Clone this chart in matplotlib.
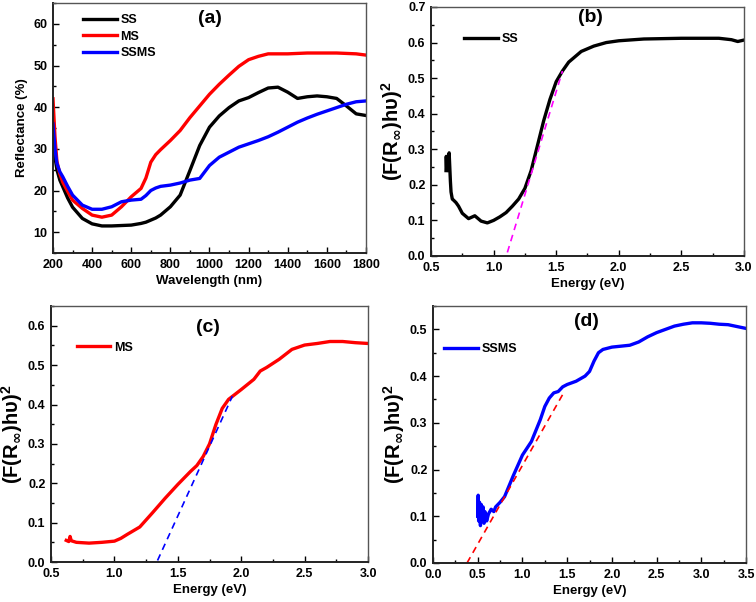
import matplotlib
matplotlib.use("Agg")
import matplotlib.pyplot as plt
from matplotlib.ticker import MultipleLocator, AutoMinorLocator

plt.rcParams['font.family'] = ['Liberation Sans', 'DejaVu Sans']
plt.rcParams['font.weight'] = 'bold'
plt.rcParams['mathtext.fontset'] = 'custom'
plt.rcParams['mathtext.rm'] = 'Liberation Sans:bold'
plt.rcParams['mathtext.bf'] = 'Liberation Sans:bold'
plt.rcParams['mathtext.it'] = 'Liberation Sans:bold'
plt.rcParams['mathtext.sf'] = 'DejaVu Sans:bold'
plt.rcParams['mathtext.default'] = 'bf'

# ---- (a) reflectance ----
wl = [200, 210, 220, 235, 250, 275, 300, 350, 400, 450, 500, 550, 600, 650, 675, 700, 725, 750, 800,
      850, 900, 950, 1000, 1050, 1100, 1150, 1200, 1250, 1300, 1350, 1400, 1450, 1500,
      1550, 1600, 1650, 1700, 1750, 1800]
ss_refl = [33, 28, 25, 22.5, 20.9, 18.2, 16, 13.3, 12, 11.5, 11.5, 11.6, 11.7, 12.1, 12.4, 12.9, 13.4, 14.1, 16.1,
           18.9, 24.8, 30.8, 35.2, 37.9, 39.9, 41.5, 42.3, 43.5, 44.6, 44.8, 43.6, 42.1, 42.5,
           42.7, 42.5, 42.1, 40.3, 38.4, 38]
ms_refl = [42, 33, 27, 24, 22, 19.8, 17.7, 15.7, 14.1, 13.6, 14.1, 16.1, 18.5, 20.5, 23, 26.8, 28.6, 29.8, 32,
           34.4, 37.5, 40.3, 43.1, 45.5, 47.7, 49.8, 51.4, 52.2, 52.8, 52.8, 52.8, 52.9, 53,
           53, 53, 53, 52.9, 52.8, 52.5]
ssms_refl = [36, 30, 26.5, 24.5, 23.3, 21, 18.9, 16.5, 15.5, 15.5, 16.1, 17.3, 17.7, 17.9, 18.8, 20, 20.6, 21, 21.3,
             21.8, 22.5, 22.9, 26, 28, 29.2, 30.4, 31.2, 32, 32.9, 34, 35.2, 36.4, 37.4,
             38.3, 39.1, 39.9, 40.7, 41.3, 41.5]

# ---- (b) SS ----
e_ss = [0.62, 0.622, 0.625, 0.63, 0.635, 0.64, 0.645, 0.65, 0.655, 0.66, 0.67, 0.68, 0.7, 0.72,
        0.75, 0.8, 0.85, 0.9, 0.95, 1.0, 1.05, 1.1, 1.15, 1.2, 1.25, 1.3, 1.35, 1.4, 1.45,
        1.5, 1.55, 1.6, 1.7, 1.8, 1.9, 2.0, 2.2, 2.5, 2.8, 2.9, 2.95, 3.0]
f_ss = [0.24, 0.28, 0.25, 0.27, 0.24, 0.28, 0.29, 0.25, 0.21, 0.18, 0.16, 0.157, 0.15, 0.14,
        0.12, 0.105, 0.113, 0.098, 0.093, 0.1, 0.11, 0.122, 0.14, 0.16, 0.19, 0.24, 0.31, 0.38, 0.44,
        0.49, 0.52, 0.545, 0.575, 0.59, 0.6, 0.605, 0.61, 0.612, 0.612, 0.608, 0.603, 0.607]
fit_ss_x = [1.11, 1.55]
fit_ss_y = [0.01, 0.52]

# ---- (c) MS ----
e_ms = [0.62, 0.64, 0.65, 0.66, 0.7, 0.8, 0.9, 1.0, 1.05, 1.1, 1.2, 1.3, 1.4, 1.5, 1.6, 1.65,
        1.7, 1.75, 1.8, 1.85, 1.9, 2.0, 2.1, 2.15, 2.2, 2.3, 2.4, 2.5, 2.6, 2.7, 2.8, 2.9, 3.0]
f_ms = [0.055, 0.052, 0.065, 0.054, 0.05, 0.048, 0.05, 0.053, 0.06, 0.07, 0.089, 0.125, 0.162,
        0.197, 0.23, 0.245, 0.268, 0.30, 0.349, 0.39, 0.413, 0.438, 0.464, 0.485, 0.494, 0.515,
        0.54, 0.551, 0.555, 0.56, 0.56, 0.557, 0.555]
fit_ms_x = [1.34, 1.93]
fit_ms_y = [0.004, 0.421]

# ---- (d) SSMS ----
e_ssms = [0.5, 0.505, 0.51, 0.52, 0.53, 0.54, 0.55, 0.56, 0.57, 0.58, 0.6, 0.62, 0.65, 0.68, 0.7,
          0.75, 0.8, 0.9, 1.0, 1.1, 1.2, 1.25, 1.3, 1.35, 1.4, 1.45, 1.5, 1.6, 1.7, 1.75, 1.8,
          1.85, 1.9, 2.0, 2.1, 2.2, 2.3, 2.4, 2.5, 2.6, 2.7, 2.8, 2.9, 3.0, 3.1, 3.2, 3.3, 3.4, 3.5]
f_ssms = [0.1, 0.145, 0.09, 0.13, 0.08, 0.125, 0.09, 0.12, 0.085, 0.11, 0.09, 0.105, 0.115, 0.11, 0.12,
          0.13, 0.142, 0.188, 0.231, 0.26, 0.307, 0.335, 0.353, 0.364, 0.367, 0.377, 0.382, 0.389, 0.40,
          0.41, 0.432, 0.45, 0.457, 0.462, 0.464, 0.466, 0.473, 0.484, 0.493, 0.50, 0.507, 0.511,
          0.514, 0.514, 0.513, 0.511, 0.51, 0.506, 0.502]
fit_ssms_x = [0.38, 1.46]
fit_ssms_y = [0.0, 0.364]

ylab = '(F(R$_{\\mathsf{\\infty}}$)hυ)$^{2}$'


def style(ax, xmaj, ymaj):
    ax.xaxis.set_major_locator(MultipleLocator(xmaj))
    ax.yaxis.set_major_locator(MultipleLocator(ymaj))
    ax.xaxis.set_minor_locator(AutoMinorLocator(2))
    ax.yaxis.set_minor_locator(AutoMinorLocator(2))
    ax.tick_params(which='both', direction='in', labelsize=9, pad=4)
    ax.tick_params(which='major', length=4, width=1)
    ax.tick_params(which='minor', length=2, width=1)
    for s in ['left', 'bottom']:
        ax.spines[s].set_linewidth(1.4)
        ax.spines[s].set_color('#222222')
    for s in ['top', 'right']:
        ax.spines[s].set_linewidth(1.0)
        ax.spines[s].set_color('#555555')
    for lab in ax.get_xticklabels() + ax.get_yticklabels():
        lab.set_fontweight('bold')


fig = plt.figure(figsize=(7.56, 6.02), dpi=100)
ax_a = fig.add_axes([0.0701, 0.5797, 0.414, 0.4153])
ax_b = fig.add_axes([0.5701, 0.5748, 0.414, 0.4136])
ax_c = fig.add_axes([0.0675, 0.0664, 0.4193, 0.4252])
ax_d = fig.add_axes([0.5728, 0.0648, 0.414, 0.4269])

# (a)
ax_a.plot(wl, ss_refl, color='black', lw=2.4, label='SS')
ax_a.plot(wl, ms_refl, color='#ff0000', lw=2.4, label='MS')
ax_a.plot(wl, ssms_refl, color='#0000ff', lw=2.4, label='SSMS')
ax_a.set_xlim(200, 1800)
ax_a.set_ylim(5, 65)
style(ax_a, 200, 10)
ax_a.set_xlabel('Wavelength (nm)', fontsize=9.5, fontweight='bold', labelpad=3)
ax_a.set_ylabel('Reflectance (%)', fontsize=9.5, fontweight='bold', labelpad=4)
ax_a.legend(loc='upper left', bbox_to_anchor=(0.06, 1.0), frameon=False,
            handlelength=2.7, labelspacing=0.35, handletextpad=0.3,
            prop={'weight': 'bold', 'size': 9})
ax_a.text(0.5, 0.94, '(a)', transform=ax_a.transAxes, fontsize=14, fontweight='bold',
          ha='center', va='center')

# (b)
ax_b.plot(e_ss, f_ss, color='black', lw=2.4, label='SS')
ax_b.plot(fit_ss_x, fit_ss_y, color='#ff00ff', lw=1.2, ls=(0, (4, 3)))
ax_b.set_xlim(0.5, 3.0)
ax_b.set_ylim(0, 0.7)
style(ax_b, 0.5, 0.1)
ax_b.set_xlabel('Energy (eV)', fontsize=9.5, fontweight='bold', labelpad=3)
ax_b.set_ylabel(ylab, fontsize=14.5, fontweight='bold', labelpad=2)
ax_b.legend(loc='upper left', bbox_to_anchor=(0.07, 0.94), frameon=False,
            handlelength=2.7, handletextpad=0.3, prop={'weight': 'bold', 'size': 9})
ax_b.text(0.508, 0.956, '(b)', transform=ax_b.transAxes, fontsize=14, fontweight='bold',
          ha='center', va='center')

# (c)
ax_c.plot(e_ms, f_ms, color='#ff0000', lw=2.4, label='MS')
ax_c.plot(fit_ms_x, fit_ms_y, color='#0000ff', lw=1.2, ls=(0, (4, 3)))
ax_c.set_xlim(0.5, 3.0)
ax_c.set_ylim(0, 0.65)
style(ax_c, 0.5, 0.1)
ax_c.set_xlabel('Energy (eV)', fontsize=9.5, fontweight='bold', labelpad=3)
ax_c.set_ylabel(ylab, fontsize=14.5, fontweight='bold', labelpad=2)
ax_c.legend(loc='upper left', bbox_to_anchor=(0.045, 0.905), frameon=False,
            handlelength=2.7, handletextpad=0.3, prop={'weight': 'bold', 'size': 9})
ax_c.text(0.495, 0.918, '(c)', transform=ax_c.transAxes, fontsize=14, fontweight='bold',
          ha='center', va='center')

# (d)
ax_d.plot(e_ssms, f_ssms, color='#0000ff', lw=2.4, label='SSMS')
ax_d.plot(fit_ssms_x, fit_ssms_y, color='#ff0000', lw=1.2, ls=(0, (4, 3)))
ax_d.set_xlim(0, 3.5)
ax_d.set_ylim(0, 0.55)
style(ax_d, 0.5, 0.1)
ax_d.set_xlabel('Energy (eV)', fontsize=9.5, fontweight='bold', labelpad=3)
ax_d.set_ylabel(ylab, fontsize=14.5, fontweight='bold', labelpad=2)
ax_d.legend(loc='upper left', bbox_to_anchor=(0.0, 0.9), frameon=False,
            handlelength=2.7, handletextpad=0.3, prop={'weight': 'bold', 'size': 9})
ax_d.text(0.489, 0.938, '(d)', transform=ax_d.transAxes, fontsize=14, fontweight='bold',
          ha='center', va='center')

fig.savefig('out.png', dpi=100)
